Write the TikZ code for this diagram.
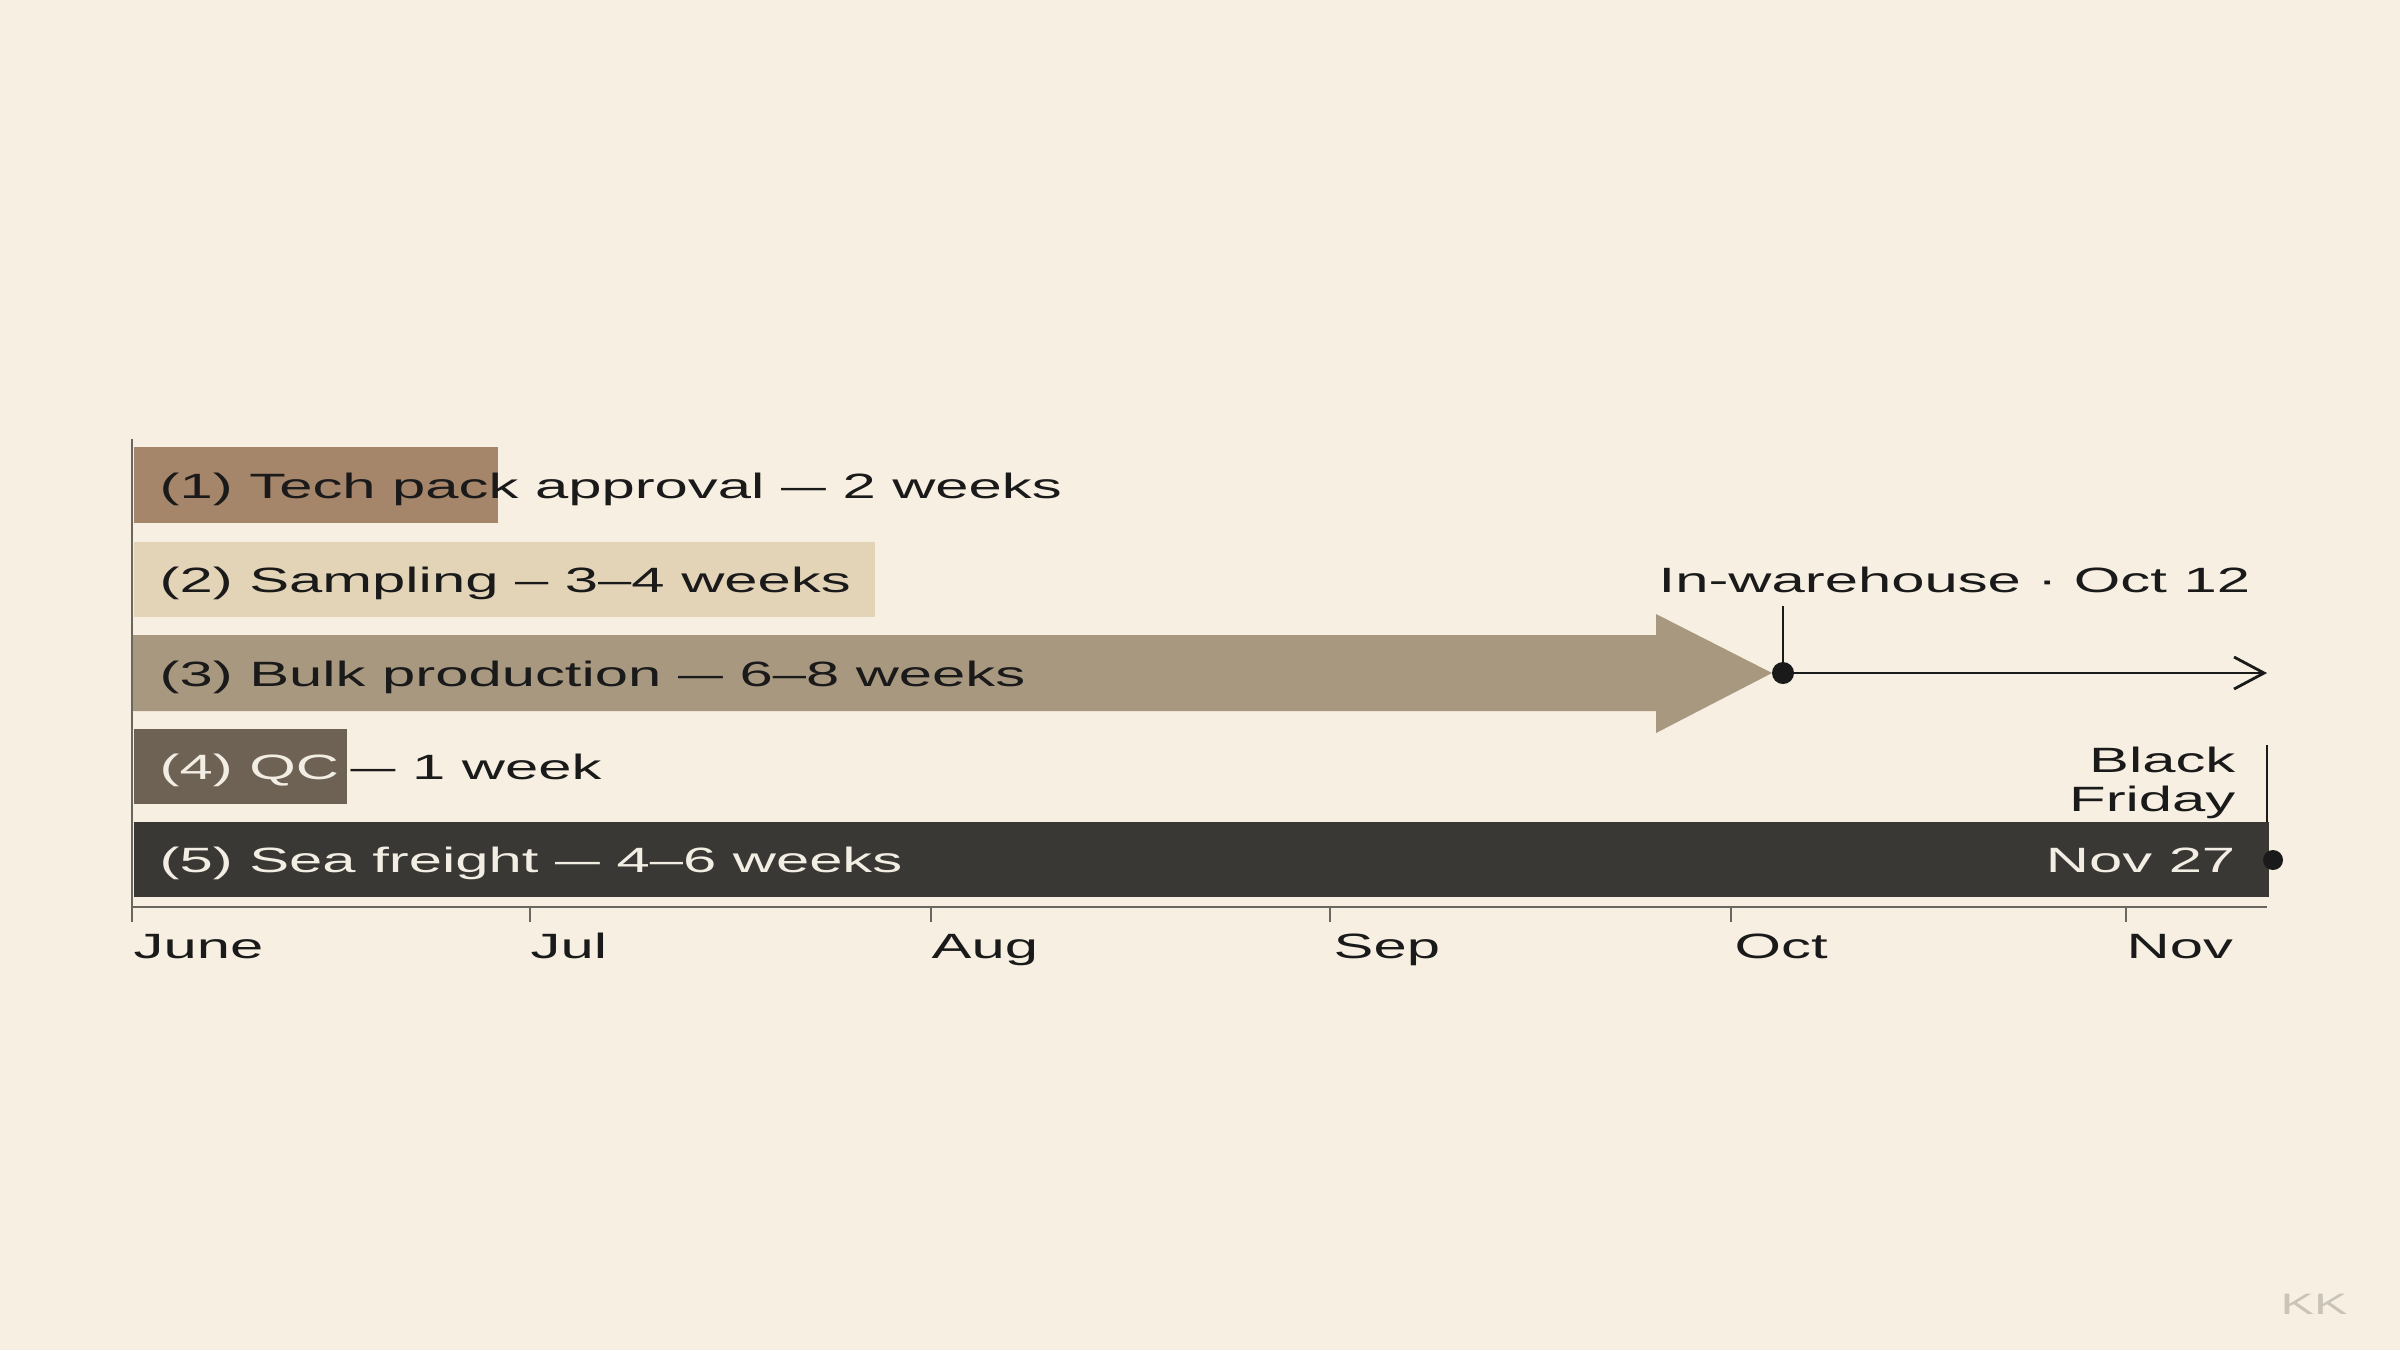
\documentclass[tikz,border=0pt]{standalone}
\usepackage{fontspec}
\setmainfont{Liberation Sans}[FakeStretch=1.70]
\usetikzlibrary{arrows.meta}

\definecolor{paper}{HTML}{F7F0E2}
\definecolor{techbrown}{HTML}{A6866A}
\definecolor{sampletan}{HTML}{E3D4B8}
\definecolor{bulktaupe}{HTML}{A89880}
\definecolor{qcbrown}{HTML}{6E6254}
\definecolor{seadark}{HTML}{3A3834}
\definecolor{inkblack}{HTML}{1A1A1A}
\definecolor{creamtext}{HTML}{F3EEE4}
\definecolor{axisgray}{HTML}{6A6660}
\definecolor{markgray}{HTML}{C9C3B8}

\newcommand{\wdash}{\scalebox{0.75}[1]{—}}

\begin{document}
\begin{tikzpicture}[x=0.01cm, y=-0.01cm]
        % Define styles
        \tikzset{
            bar/.style={rectangle, anchor=west, minimum height=0.75cm, inner sep=0pt},
            phase_text/.style={anchor=base west, inner sep=0pt, text=inkblack, font=\fontsize{10}{11}\selectfont},
            phase_light/.style={phase_text, text=creamtext},
            month_text/.style={phase_text},
            axis/.style={draw=axisgray, line width=0.8pt},
            marker/.style={draw=inkblack, line width=0.8pt},
            arrow/.style={marker, -{Straight Barb[length=0.3cm, width=0.32cm]}}
        }

        % Background
        \fill[paper] (0,0) rectangle (2400,1350);
        \useasboundingbox (0,0) rectangle (2400,1350);

        % Bars
        \node[bar, fill=techbrown, minimum width=3.64cm] (bar_node_1) at (133,485) {};
        \node[bar, fill=sampletan, minimum width=7.41cm] (bar_node_2) at (133,579) {};
        \fill[bulktaupe] (133,635) -- (1656,635) -- (1656,614) -- (1772,673)
            -- (1656,733) -- (1656,711) -- (133,711) -- cycle;
        \node[bar, fill=qcbrown, minimum width=2.13cm] (bar_node_4) at (133,766) {};
        \node[bar, fill=seadark, minimum width=21.34cm] (bar_node_5) at (133,859) {};

        % Bar texts
        \node[phase_text] (text_node_1) at (159,498) {(1) Tech pack approval \wdash{} 2 weeks};
        \node[phase_text] (text_node_2) at (159,592) {(2) Sampling – 3–4 weeks};
        \node[phase_text] (text_node_3) at (159,686) {(3) Bulk production \wdash{} 6–8 weeks};
        \node[phase_light] (text_node_4) at (159,779) {(4) QC};
        \node[phase_text] (text_node_4b) at (350,779) {\wdash{} 1 week};
        \node[phase_light] (text_node_5) at (159,872) {(5) Sea freight \wdash{} 4–6 weeks};

        % Milestones
        \coordinate (warehouse_top) at (1783,606);
        \coordinate (warehouse_point) at (1783,673);
        \coordinate (warehouse_end) at (2267,673);
        \node[phase_text] (warehouse_node) at (1658,592) {In-warehouse · Oct 12};
        \draw[marker] (warehouse_top) -- (warehouse_point);
        \draw[arrow] (warehouse_point) -- (warehouse_end);
        \fill[inkblack] (warehouse_point) circle[radius=0.11cm];

        \coordinate (friday_top) at (2267,745);
        \coordinate (friday_bottom) at (2267,822);
        \coordinate (friday_point) at (2273,860);
        \node[phase_text, anchor=base east, align=right] (friday_node) at (2236,811) {Black\\Friday};
        \node[phase_light, anchor=base east] (nov_node) at (2236,872) {Nov 27};
        \draw[marker] (friday_top) -- (friday_bottom);
        \fill[inkblack] (friday_point) circle[radius=0.1cm];

        % Axis
        \coordinate (axis_top) at (132,439);
        \coordinate (axis_origin) at (132,907);
        \coordinate (axis_end) at (2267,907);
        \draw[axis] (axis_top) -- (132,922);
        \draw[axis] (axis_origin) -- (axis_end);
        \draw[axis] (530,907) -- (530,922);
        \draw[axis] (931,907) -- (931,922);
        \draw[axis] (1330,907) -- (1330,922);
        \draw[axis] (1731,907) -- (1731,922);
        \draw[axis] (2126,907) -- (2126,922);

        % Months
        \node[month_text] (month_node_1) at (133,958) {June};
        \node[month_text] (month_node_2) at (530,958) {Jul};
        \node[month_text] (month_node_3) at (931,958) {Aug};
        \node[month_text] (month_node_4) at (1333,958) {Sep};
        \node[month_text] (month_node_5) at (1734,958) {Oct};
        \node[month_text] (month_node_6) at (2126,958) {Nov};

        % Signature
        \node[font=\fontsize{8.4}{9}\selectfont, text=markgray, inner sep=0pt] (sign_node) at (2314,1304) {KK};
    \end{tikzpicture}
\end{document}
